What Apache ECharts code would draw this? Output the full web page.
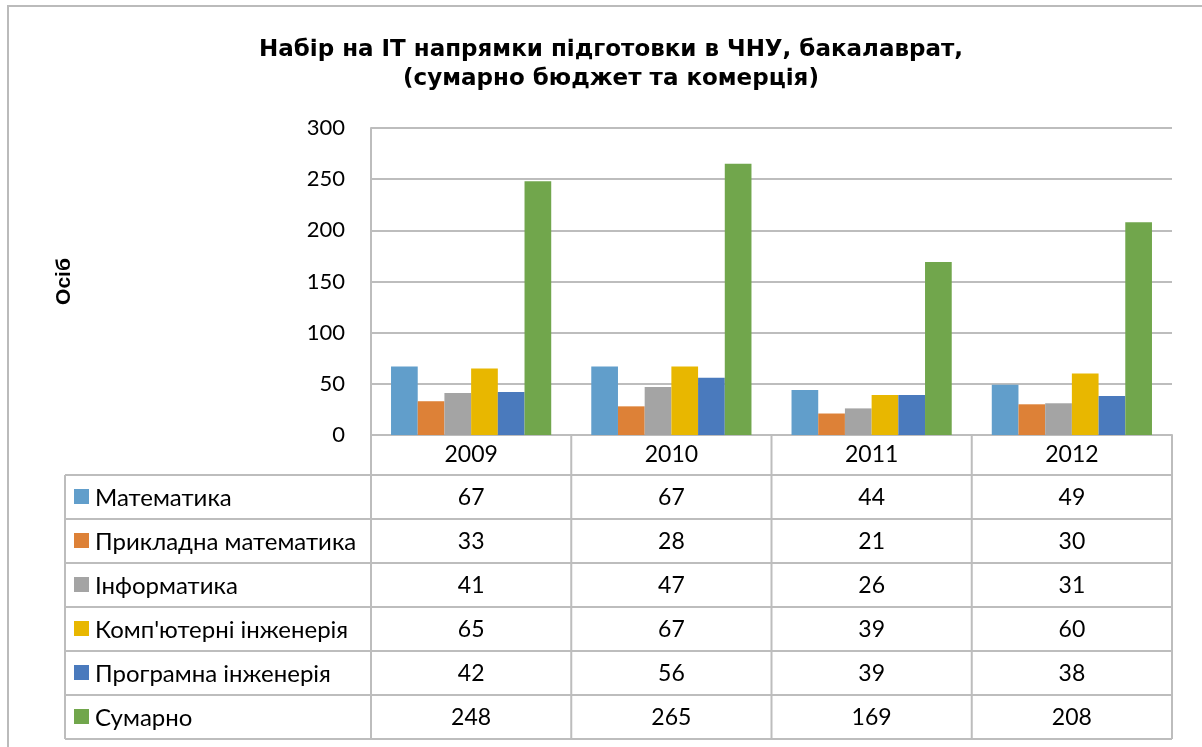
<!DOCTYPE html>
<html>
<head>
<meta charset="utf-8">
<script src="https://cdn.jsdelivr.net/npm/echarts@6/dist/echarts.min.js"></script>
<style>
    html, body { margin: 0; padding: 0; background: #fff; }
    #enrollChart { width: 1202px; height: 747px; }
</style>
</head>
<body>
<div id="enrollChart"></div>
<script>
    const years = ['2009', '2010', '2011', '2012'];
    const directionNames = ['Математика', 'Прикладна математика', 'Інформатика',
        "Комп'ютерні інженерія", 'Програмна інженерія', 'Сумарно'];

    const mathematics = [67, 67, 44, 49];
    const appliedMath = [33, 28, 21, 30];
    const informatics = [41, 47, 26, 31];
    const computerEng = [65, 67, 39, 60];
    const softwareEng = [42, 56, 39, 38];
    const total = [248, 265, 169, 208];

    const yTicks = [0, 50, 100, 150, 200, 250, 300];

    const palette = ['#619ecb', '#dd8137', '#a4a4a4', '#e8b700', '#4a7abd', '#71a64c'];
    const seriesValues = [mathematics, appliedMath, informatics, computerEng, softwareEng, total];

    const font = 'Lato, "Open Sans", sans-serif';
    const gridLine = '#bdbdbd';

    const myChart = echarts.init(document.getElementById('enrollChart'));

    myChart.setOption({
        animation: false,
        title: {
            text: 'Набір на IT напрямки підготовки в ЧНУ, бакалаврат,\n(сумарно бюджет та комерція)',
            left: 606,
            textAlign: 'center',
            top: 31,
            textStyle: {
                fontFamily: '"DejaVu Sans", sans-serif',
                fontWeight: 'bold',
                fontSize: 23,
                lineHeight: 29,
                color: '#000'
            }
        },
        grid: {
            left: 371,
            top: 128,
            width: 801,
            height: 307
        },
        xAxis: {
            type: 'category',
            data: years,
            axisLine: { lineStyle: { color: gridLine, width: 2 } },
            axisTick: { show: false },
            axisLabel: {
                margin: 8,
                fontFamily: font,
                fontSize: 23,
                color: '#000'
            }
        },
        yAxis: {
            type: 'value',
            min: yTicks[0],
            max: yTicks[yTicks.length - 1],
            interval: 50,
            name: 'Осіб',
            nameLocation: 'middle',
            nameRotate: 90,
            nameGap: 296,
            nameTextStyle: {
                fontFamily: '"Liberation Sans", Arial, sans-serif',
                fontWeight: 'bold',
                fontSize: 21,
                color: '#000'
            },
            axisLine: { show: true, lineStyle: { color: gridLine, width: 2 } },
            axisTick: { show: false },
            splitLine: { lineStyle: { color: gridLine, width: 2 } },
            axisLabel: {
                margin: 26,
                fontFamily: font,
                fontSize: 22,
                color: '#000'
            }
        },
        series: directionNames.map((name, i) => ({
            name: name,
            type: 'bar',
            data: seriesValues[i],
            barGap: '0%',
            barCategoryGap: '20%',
            itemStyle: { color: palette[i] }
        }))
    });

    // data table under the plot, built from the same arrays
    const tableLeft = 65;
    const plotLeft = 371;
    const plotRight = 1172;
    const axisY = 435;
    const headerBottom = 475;
    const rowH = 44;
    const lineStyle = { stroke: gridLine, lineWidth: 2 };
    const graphics = [];

    // outer frame of the chart object
    graphics.push({
        type: 'rect', silent: true,
        shape: { x: 8, y: 6, width: 1400, height: 900 },
        style: { fill: null, stroke: '#bbbbbb', lineWidth: 2 }
    });

    const colW = (plotRight - plotLeft) / years.length;
    const tableBottom = headerBottom + rowH * directionNames.length;

    for (let c = 0; c <= years.length; c++) {
        const x = plotLeft + c * colW;
        graphics.push({ type: 'line', silent: true, shape: { x1: x, y1: axisY, x2: x, y2: tableBottom }, style: lineStyle });
    }
    graphics.push({ type: 'line', silent: true, shape: { x1: tableLeft, y1: headerBottom, x2: tableLeft, y2: tableBottom }, style: lineStyle });
    for (let r = 0; r <= directionNames.length; r++) {
        const y = headerBottom + r * rowH;
        graphics.push({ type: 'line', silent: true, shape: { x1: tableLeft, y1: y, x2: plotRight, y2: y }, style: lineStyle });
    }

    directionNames.forEach((name, r) => {
        const cy = headerBottom + r * rowH + rowH / 2;
        graphics.push({
            type: 'rect', silent: true,
            shape: { x: 74, y: cy - 8, width: 15, height: 15 },
            style: { fill: palette[r] }
        });
        graphics.push({
            type: 'text', silent: true, x: 95, y: cy + 1,
            style: { text: name, fontFamily: font, fontSize: 24, fill: '#000', align: 'left', verticalAlign: 'middle' }
        });
        seriesValues[r].forEach((v, c) => {
            const cx = myChart.convertToPixel({ xAxisIndex: 0 }, years[c]);
            graphics.push({
                type: 'text', silent: true, x: cx, y: cy + 1,
                style: { text: String(v), fontFamily: font, fontSize: 23, fill: '#000', align: 'center', verticalAlign: 'middle' }
            });
        });
    });

    myChart.setOption({ graphic: graphics });
</script>
</body>
</html>
